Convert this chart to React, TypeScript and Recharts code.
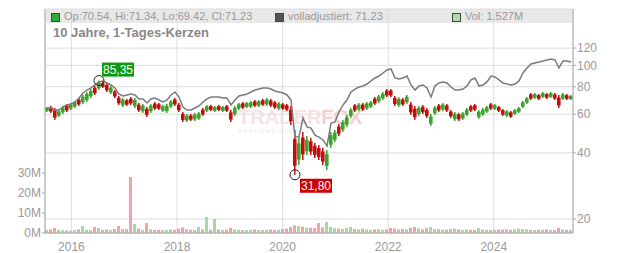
import React from 'react';
import {
  ComposedChart,
  Bar,
  Line,
  XAxis,
  YAxis,
  CartesianGrid,
  ReferenceDot,
} from 'recharts';

// ~4-week periods, Jul 2015 .. Jun 2025
const priceHigh = [
  64.7, 65.4, 64.0, 62.7, 65.4, 66.8, 67.5, 68.9, 71.1, 73.4,
  75.7, 78.1, 80.6, 85.35, 84.1, 83.2, 80.6, 77.3, 72.6, 71.1,
  70.4, 71.8, 71.1, 67.5, 66.8, 64.7, 66.8, 68.2, 67.5, 66.1,
  66.8, 69.6, 71.1, 67.5, 61.4, 60.1, 60.1, 60.8, 61.4, 64.0,
  66.1, 66.1, 65.4, 66.1, 65.4, 66.1, 62.7, 65.4, 67.5, 68.2,
  68.2, 68.9, 69.6, 69.6, 70.4, 71.1, 70.4, 68.9, 68.2, 67.5,
  66.8, 65.4, 50.8, 46.8, 49.8, 47.7, 46.8, 44.4, 43.4, 42.1,
  41.2, 49.8, 50.8, 54.1, 56.5, 59.5, 64.0, 66.8, 67.5, 67.5,
  68.2, 68.9, 71.8, 73.4, 75.7, 78.1, 78.1, 72.6, 71.8, 71.1,
  73.4, 68.2, 65.4, 65.4, 66.1, 64.0, 60.1, 65.4, 66.8, 67.5,
  66.8, 62.7, 61.4, 60.8, 61.4, 64.0, 66.1, 66.8, 62.7, 64.0,
  65.4, 67.5, 66.8, 65.4, 63.4, 62.7, 62.0, 63.4, 64.7, 68.9,
  71.8, 74.9, 74.9, 74.1, 75.7, 74.9, 75.7, 74.9, 73.4, 74.9,
  74.1, 73.4,
];

const priceLow = [
  61.4, 60.8, 56.5, 58.3, 60.1, 61.4, 62.7, 64.0, 65.4, 66.8,
  68.2, 71.1, 73.4, 77.3, 79.0, 75.7, 74.1, 71.1, 66.1, 64.7,
  65.4, 66.1, 64.0, 61.4, 60.8, 58.3, 60.8, 62.7, 62.7, 61.4,
  60.8, 64.0, 65.4, 61.4, 55.3, 55.3, 55.9, 55.9, 56.5, 58.9,
  61.4, 62.0, 61.4, 62.0, 61.4, 61.4, 55.3, 58.9, 62.7, 63.4,
  64.0, 64.0, 64.7, 64.7, 65.4, 65.4, 64.7, 63.4, 62.7, 62.7,
  62.0, 53.6, 31.8, 35.2, 37.1, 39.1, 39.1, 37.9, 37.1, 35.2,
  33.4, 42.1, 44.8, 47.7, 49.8, 52.5, 57.7, 61.4, 62.0, 62.0,
  62.7, 64.0, 66.1, 67.5, 69.6, 71.8, 71.8, 65.4, 64.7, 65.4,
  66.8, 59.5, 56.5, 58.9, 60.1, 57.7, 53.0, 59.5, 61.4, 62.0,
  61.4, 57.7, 55.9, 55.9, 56.5, 58.9, 61.4, 62.0, 57.1, 58.9,
  60.8, 62.7, 62.7, 61.4, 58.9, 58.3, 57.7, 59.5, 60.8, 64.0,
  66.8, 69.6, 70.4, 69.6, 71.1, 70.4, 71.1, 69.6, 64.0, 69.6,
  69.6, 69.6,
];

// volladjustiert, rebased to the first close
const adjusted = [
  64.0, 64.0, 62.7, 62.7, 64.7, 66.1, 66.8, 68.2, 71.1, 74.9,
  77.3, 79.0, 81.5, 84.1, 85.0, 83.2, 81.5, 79.0, 74.1, 72.6,
  73.4, 74.1, 73.4, 70.4, 70.4, 67.5, 70.4, 71.1, 69.6, 68.2,
  69.6, 73.4, 75.7, 71.8, 64.7, 62.7, 62.7, 64.0, 65.4, 68.2,
  70.4, 71.8, 71.8, 71.8, 71.1, 71.1, 66.1, 69.6, 72.6, 73.4,
  74.1, 75.7, 77.3, 78.1, 79.0, 79.0, 78.1, 76.5, 75.7, 74.9,
  73.4, 69.6, 47.2, 47.2, 57.7, 52.5, 51.9, 48.2, 47.2, 45.8,
  43.0, 54.7, 55.3, 61.4, 66.1, 69.6, 75.7, 78.1, 79.8, 80.6,
  82.3, 85.0, 87.7, 89.5, 92.4, 95.4, 96.4, 87.7, 86.8, 87.7,
  89.5, 81.5, 77.3, 80.6, 81.5, 79.0, 71.8, 80.6, 83.2, 84.1,
  83.2, 79.8, 77.3, 77.3, 78.1, 80.6, 85.9, 87.7, 80.6, 81.5,
  84.1, 89.5, 88.6, 85.9, 83.2, 82.3, 81.5, 82.3, 85.0, 92.4,
  97.4, 101.5, 102.6, 103.7, 104.8, 105.9, 107.0, 105.9, 97.4, 104.8,
  104.8, 103.7,
];

// volume in millions
const volume = [
  1.5, 1.8, 2.5, 1.6, 1.4, 1.3, 1.2, 1.5, 1.8, 3.5,
  1.6, 1.4, 3.0, 2.5, 1.6, 1.8, 1.5, 2.0, 3.5, 2.0,
  1.8, 28, 4.5, 2.2, 1.6, 5.0, 1.8, 1.5, 1.6, 1.4,
  1.5, 1.8, 1.6, 2.2, 2.8, 2.0, 1.6, 1.5, 3.0, 1.8,
  8.0, 1.6, 7.0, 1.8, 1.5, 1.6, 2.6, 1.8, 1.5, 1.4,
  1.5, 1.6, 1.8, 1.5, 1.4, 1.6, 1.8, 1.5, 1.7, 2.0,
  2.2, 3.0, 3.8, 3.5, 3.2, 2.8, 2.6, 2.5, 5.0, 2.8,
  5.5, 3.0, 2.4, 2.2, 2.0, 2.5, 3.0, 2.0, 1.8, 2.2,
  1.8, 1.6, 1.8, 2.0, 1.6, 1.8, 2.5, 2.2, 1.8, 2.0,
  1.8, 2.6, 3.0, 2.2, 1.8, 2.4, 3.0, 2.0, 1.8, 1.6,
  1.7, 2.0, 2.2, 1.8, 1.6, 1.8, 1.6, 1.5, 2.4, 1.8,
  1.6, 1.5, 1.6, 1.8, 1.7, 2.0, 1.6, 1.8, 2.2, 2.0,
  1.8, 1.6, 1.5, 1.7, 1.6, 1.8, 1.6, 1.5, 2.6, 1.8,
  1.6, 1.527,
];

// g = up, r = down
const trend =
  'grrggrggrg' + 'ggrgrrgrrg' + 'rrgrgrgrrg' + 'ggrrrgrggr' +
  'grgrgrrggr' + 'ggrgrgrrgr' + 'rrrgrgrrrr' + 'gggrgggrgr' +
  'ggrggrrrgr' + 'grrgrrggrg' + 'rrgrggrrgg' + 'grgrrgrggg' +
  'grgrgrgrrg' + 'rg';

const yearTicks = [2016, 2018, 2020, 2022, 2024];
const priceTicks = [20, 40, 60, 80, 100, 120];
const volumeTicks = [0, 10, 20, 30];

const START = 2015.5;
const STEP = 10 / priceHigh.length;

const data = priceHigh.map((hi, i) => ({
  t: START + (i + 0.5) * STEP,
  range: [priceLow[i], hi],
  adj: adjusted[i],
  vol: volume[i],
  up: trend[i] === 'g',
}));

const maxIdx = priceHigh.indexOf(Math.max(...priceHigh));
const minIdx = priceLow.indexOf(Math.min(...priceLow));

const GREEN = '#3aa52a';
const RED = '#c40e0e';
const FONT = "Arial, 'Liberation Sans', sans-serif";

// wick over the full range, body over the middle part
const Candle = (props: any) => {
  const { x, y, width, height, payload } = props;
  const top = Math.min(y, y + height);
  const h = Math.max(Math.abs(height), 1);
  const color = payload.up ? GREEN : RED;
  return (
    <g>
      <rect x={x + width / 2 - 0.75} y={top} width={1.5} height={h} fill={color} />
      <rect x={x} y={top + h * 0.2} width={width} height={Math.max(h * 0.6, 1)} fill={color} />
    </g>
  );
};

const VolBar = (props: any) => {
  const { x, y, width, height, payload } = props;
  return (
    <rect
      x={x}
      y={y}
      width={width}
      height={Math.max(height, 0)}
      fill={payload.up ? '#a6d9a0' : '#f2a3a8'}
    />
  );
};

const HighMark = (props: any) => {
  const { cx, cy } = props;
  return (
    <g>
      <circle cx={cx} cy={cy} r={5} fill="none" stroke="#222" strokeWidth={1} />
      <rect x={cx + 3} y={cy - 18} width={32} height={14} fill="#0d990d" />
      <text x={cx + 19} y={cy - 7} textAnchor="middle" fontSize={12} fill="#fff" fontFamily={FONT}>
        85,35
      </text>
    </g>
  );
};

const LowMark = (props: any) => {
  const { cx, cy } = props;
  return (
    <g>
      <circle cx={cx} cy={cy} r={5} fill="none" stroke="#222" strokeWidth={1} />
      <rect x={cx + 5} y={cy + 4} width={32} height={14} fill="#cc0000" />
      <text x={cx + 21} y={cy + 15} textAnchor="middle" fontSize={12} fill="#fff" fontFamily={FONT}>
        31,80
      </text>
    </g>
  );
};

const legendSq = (color: string) => ({
  display: 'inline-block',
  width: 7,
  height: 7,
  background: color,
  border: '1px solid #444',
  marginRight: 4,
  verticalAlign: 'middle' as const,
});

const legendRow = (left: number) => ({
  position: 'absolute' as const,
  left,
  top: 9,
  height: 14,
  lineHeight: '14px',
  fontSize: 11,
  color: '#999',
  whiteSpace: 'nowrap' as const,
});

export default function App() {
  return (
    <div
      style={{
        position: 'absolute',
        left: 0,
        top: 0,
        width: 632,
        height: 253,
        background: '#fff',
        fontFamily: FONT,
        overflow: 'hidden',
      }}
    >
      {/* header band */}
      <div
        style={{
          position: 'absolute',
          left: 45,
          top: 9,
          width: 528,
          height: 14,
          background: '#e8e8e8',
        }}
      />
      {/* watermark */}
      <div
        style={{
          position: 'absolute',
          left: 238,
          top: 106,
          fontSize: 20,
          fontWeight: 'bold',
          lineHeight: '22px',
        }}
      >
        <span style={{ color: '#f6e4e4' }}>TRADER</span>
        <span style={{ color: '#f8cfcf' }}>FOX</span>
        <div style={{ fontSize: 6, color: '#eee', lineHeight: '7px', letterSpacing: 1 }}>
          REALTIME STOCKS
        </div>
      </div>
      <div style={{ position: 'absolute', left: 0, top: 0 }}>
        <ComposedChart
          width={632}
          height={253}
          data={data}
          margin={{ top: 9, right: 0, bottom: 0, left: 0 }}
        >
          <CartesianGrid xAxisId="t" yAxisId="p" stroke="#dcdcdc" />
          <XAxis
            xAxisId="t"
            dataKey="t"
            type="number"
            domain={[2015.5, 2025.5]}
            ticks={yearTicks}
            interval={0}
            allowDataOverflow
            height={20}
            tickLine={false}
            axisLine={{ stroke: '#aaa' }}
            tick={{ fontSize: 12, fill: '#999', fontFamily: FONT }}
            tickMargin={3}
          />
          <XAxis
            xAxisId="v"
            dataKey="t"
            type="number"
            domain={[2015.5, 2025.5]}
            allowDataOverflow
            hide
          />
          <YAxis
            yAxisId="p"
            orientation="right"
            scale="log"
            domain={[17.27, 180.7]}
            allowDataOverflow
            ticks={priceTicks}
            interval={0}
            width={59}
            tickSize={3}
            tickMargin={1}
            axisLine={{ stroke: '#aaa' }}
            tickLine={{ stroke: '#aaa' }}
            tick={{ fontSize: 12, fill: '#999', fontFamily: FONT }}
          />
          <YAxis
            yAxisId="v"
            orientation="left"
            domain={[0, 112]}
            allowDataOverflow
            ticks={volumeTicks}
            interval={0}
            tickFormatter={(v: number) => `${v}M`}
            width={45}
            tickSize={3}
            tickMargin={1}
            axisLine={{ stroke: '#aaa' }}
            tickLine={{ stroke: '#aaa' }}
            tick={{ fontSize: 12, fill: '#999', fontFamily: FONT }}
          />
          <Bar
            xAxisId="v"
            yAxisId="v"
            dataKey="vol"
            barSize={3}
            shape={VolBar}
            isAnimationActive={false}
          />
          <Line
            xAxisId="t"
            yAxisId="p"
            dataKey="adj"
            stroke="#7a7a7a"
            strokeWidth={1.5}
            dot={false}
            isAnimationActive={false}
          />
          <Bar
            xAxisId="t"
            yAxisId="p"
            dataKey="range"
            barSize={4}
            shape={Candle}
            isAnimationActive={false}
          />
          <ReferenceDot
            xAxisId="t"
            yAxisId="p"
            x={data[maxIdx].t}
            y={priceHigh[maxIdx]}
            r={5}
            shape={HighMark}
          />
          <ReferenceDot
            xAxisId="t"
            yAxisId="p"
            x={data[minIdx].t}
            y={priceLow[minIdx]}
            r={5}
            shape={LowMark}
          />
        </ComposedChart>
      </div>
      {/* legend row */}
      <div style={legendRow(51)}>
        <span style={legendSq('#33aa33')} />
        <span>Op:70.54, Hi:71.34, Lo:69.42, Cl:71.23</span>
      </div>
      <div style={legendRow(275)}>
        <span style={legendSq('#555')} />
        <span>volladjustiert: 71.23</span>
      </div>
      <div style={legendRow(452)}>
        <span style={legendSq('#aaddaa')} />
        <span>Vol: 1.527M</span>
      </div>
      <div
        style={{
          position: 'absolute',
          left: 53,
          top: 25,
          fontSize: 13,
          fontWeight: 'bold',
          color: '#888',
          lineHeight: '16px',
          whiteSpace: 'nowrap',
        }}
      >
        10 Jahre, 1-Tages-Kerzen
      </div>
    </div>
  );
}
